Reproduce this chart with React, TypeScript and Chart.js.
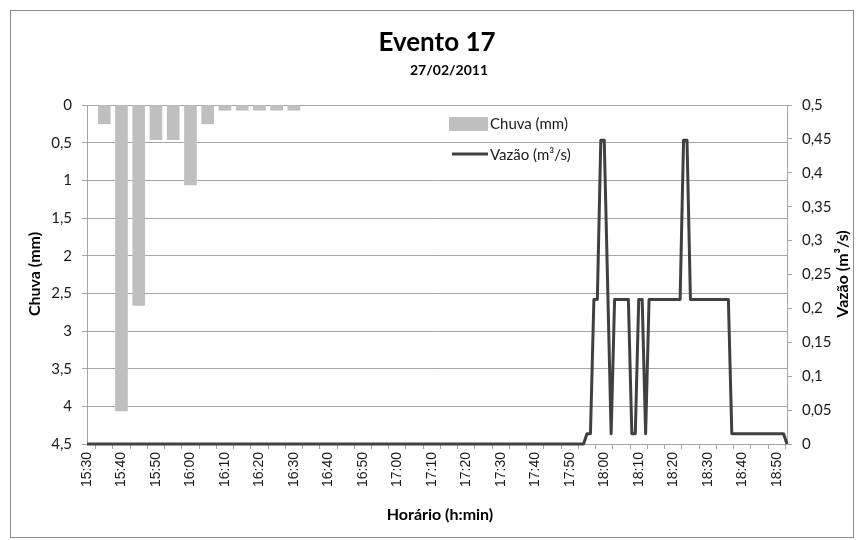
import React, { useEffect, useRef } from 'react';
import { Chart, registerables } from 'chart.js';

Chart.register(...registerables);

// ---- Data ----
const startTime = '15:30';
const endTime = '18:53';

const rainTimes = ['15:35', '15:40', '15:45', '15:50', '15:55', '16:00', '16:05', '16:10', '16:15', '16:20', '16:25', '16:30'];
const rainValues = [0.25, 4.06, 2.66, 0.46, 0.46, 1.06, 0.25, 0.07, 0.07, 0.07, 0.07, 0.07];

const flowTimes = ['15:30', '17:54', '17:55', '17:56', '17:57', '17:58', '17:59', '18:00', '18:02', '18:03', '18:07', '18:08', '18:09', '18:10', '18:11', '18:12', '18:13', '18:22', '18:23', '18:24', '18:25', '18:36', '18:37', '18:52', '18:53'];
const flowValues = [0, 0, 0.015, 0.015, 0.213, 0.213, 0.448, 0.448, 0.015, 0.213, 0.213, 0.015, 0.015, 0.213, 0.213, 0.015, 0.213, 0.213, 0.448, 0.448, 0.213, 0.213, 0.015, 0.015, 0];

const rainAxisMax = 4.5;
const rainAxisStep = 0.5;
const flowAxisMax = 0.5;
const flowAxisStep = 0.05;

const titleText = 'Evento 17';
const subtitleText = '27/02/2011';
const xTitle = 'Horário (h:min)';
const yLeftTitle = 'Chuva (mm)';
const yRightTitle = 'Vazão (m³/s)';
const rainLabel = 'Chuva (mm)';
const flowLabel = 'Vazão (m³/s)';

// ---- helpers ----
const toAbs = (t: string) => {
  const [h, m] = t.split(':').map(Number);
  return h * 60 + m;
};
const base = toAbs(startTime);
const toMin = (t: string) => toAbs(t) - base;
const fmtTime = (v: number) => {
  const a = base + v;
  const h = Math.floor(a / 60);
  const m = a % 60;
  return `${h}:${m < 10 ? '0' + m : m}`;
};
const fmtNum = (v: number) => String(Number(Number(v).toFixed(3))).replace('.', ',');

const RAIN_COLOR = '#bfbfbf';
const FLOW_COLOR = '#404040';
const GRID_COLOR = '#a6a6a6';
const TEXT_COLOR = '#1a1a1a';

const decorPlugin = {
  id: 'decor',
  afterDraw(chart: any) {
    const ctx = chart.ctx as CanvasRenderingContext2D;
    ctx.save();
    // outer border
    ctx.strokeStyle = '#8c8c8c';
    ctx.lineWidth = 1;
    ctx.strokeRect(10.5, 10.5, 843, 527);

    ctx.fillStyle = '#000';
    ctx.textAlign = 'center';
    ctx.textBaseline = 'middle';
    ctx.font = 'bold 26px Lato';
    ctx.fillText(titleText, 437, 43);
    ctx.font = 'bold 14px Lato';
    ctx.fillText(subtitleText, 449, 70);

    ctx.font = 'bold 16px Lato';
    ctx.fillText(xTitle, 440, 515);
    ctx.save();
    ctx.translate(35, 274);
    ctx.rotate(-Math.PI / 2);
    ctx.fillText(yLeftTitle, 0, 0);
    ctx.restore();
    ctx.save();
    ctx.translate(843, 274);
    ctx.rotate(-Math.PI / 2);
    ctx.fillText(yRightTitle, 0, 0);
    ctx.restore();

    // legend
    ctx.fillStyle = RAIN_COLOR;
    ctx.fillRect(449, 117, 39, 14);
    ctx.strokeStyle = FLOW_COLOR;
    ctx.lineWidth = 3;
    ctx.beginPath();
    ctx.moveTo(452, 154);
    ctx.lineTo(488, 154);
    ctx.stroke();
    ctx.fillStyle = TEXT_COLOR;
    ctx.textAlign = 'left';
    ctx.font = '15px Lato';
    ctx.fillText(rainLabel, 490, 124);
    ctx.fillText(flowLabel, 490, 155);
    ctx.restore();
  },
};

export default function App() {
  const ref = useRef<HTMLCanvasElement | null>(null);

  useEffect(() => {
    if (!ref.current) return;
    const rainData = rainTimes.map((t, i) => ({ x: toMin(t), y: rainValues[i] }));
    const flowData = flowTimes.map((t, i) => ({ x: toMin(t), y: flowValues[i] }));
    const xMax = toMin(endTime);

    const chart = new Chart(ref.current, {
      type: 'bar',
      data: {
        datasets: [
          {
            type: 'line',
            label: flowLabel,
            data: flowData,
            xAxisID: 'x',
            yAxisID: 'y1',
            borderColor: FLOW_COLOR,
            backgroundColor: FLOW_COLOR,
            borderWidth: 3,
            pointRadius: 0,
            tension: 0,
            borderJoinStyle: 'round',
            clip: 6,
            order: 0,
          } as any,
          {
            type: 'bar',
            label: rainLabel,
            data: rainData,
            xAxisID: 'x',
            yAxisID: 'y',
            backgroundColor: RAIN_COLOR,
            barThickness: 12,
            order: 1,
          } as any,
        ],
      },
      options: {
        responsive: false,
        animation: false,
        events: [],
        layout: { padding: { top: 105, left: 10, right: 10, bottom: 12 } },
        plugins: {
          legend: { display: false },
          tooltip: { enabled: false },
          title: { display: false },
        },
        scales: {
          x: {
            type: 'linear',
            min: 0,
            max: xMax,
            offset: false,
            afterFit: (s: any) => { s.height = 84; },
            border: { color: GRID_COLOR },
            grid: { drawOnChartArea: false, drawTicks: true, tickLength: 5, color: GRID_COLOR },
            ticks: {
              stepSize: 5,
              autoSkip: false,
              includeBounds: false,
              minRotation: 90,
              maxRotation: 90,
              padding: 3,
              color: TEXT_COLOR,
              font: { family: 'Liberation Sans', size: 14 },
              callback: (v: any) => (Number(v) % 10 === 0 ? fmtTime(Number(v)) : ''),
            },
          },
          y: {
            type: 'linear',
            position: 'left',
            reverse: true,
            min: 0,
            max: rainAxisMax,
            afterFit: (s: any) => { s.width = 77; },
            border: { color: GRID_COLOR },
            grid: { color: GRID_COLOR, tickLength: 5 },
            ticks: {
              stepSize: rainAxisStep,
              padding: 10,
              color: TEXT_COLOR,
              font: { family: 'Lato', size: 15 },
              callback: (v: any) => fmtNum(v),
            },
          },
          y1: {
            type: 'linear',
            position: 'right',
            min: 0,
            max: flowAxisMax,
            afterFit: (s: any) => { s.width = 68; },
            border: { color: GRID_COLOR },
            grid: { drawOnChartArea: false, color: GRID_COLOR, tickLength: 5 },
            ticks: {
              stepSize: flowAxisStep,
              padding: 10,
              color: TEXT_COLOR,
              font: { family: 'Lato', size: 15 },
              callback: (v: any) => fmtNum(v),
            },
          },
        },
      } as any,
      plugins: [decorPlugin],
    });
    return () => chart.destroy();
  }, []);

  return (
    <div style={{ position: 'absolute', left: 0, top: 0, width: 865, height: 540, background: '#fff' }}>
      <canvas ref={ref} width={865} height={540} style={{ display: 'block', width: 865, height: 540 }} />
    </div>
  );
}
